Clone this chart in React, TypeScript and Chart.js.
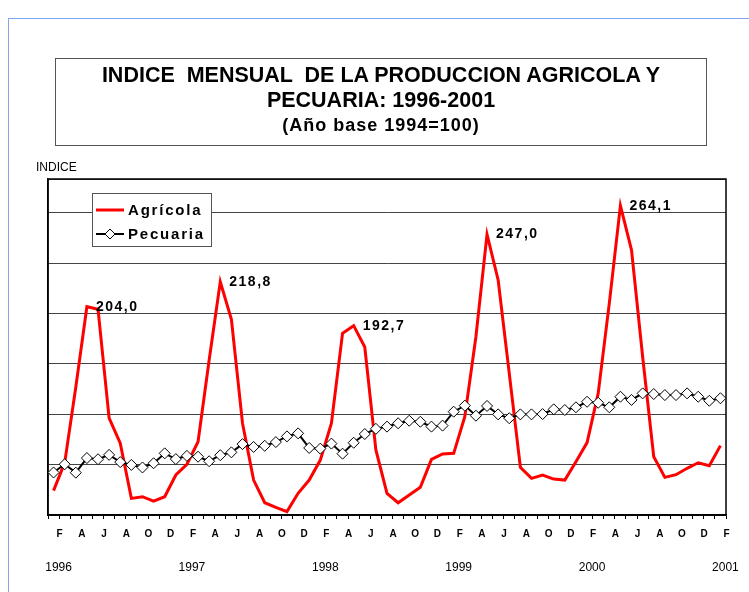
import React, { useEffect, useRef } from 'react';
import { Chart, registerables } from 'chart.js';

Chart.register(...registerables);

// ---- Data ----
const monthLetters = ['E', 'F', 'M', 'A', 'M', 'J', 'J', 'A', 'S', 'O', 'N', 'D'];
const firstYear = 1996;
const firstMonth = 1; // February (0 = enero)

const agricola = [
  94.5, 111.0, 156.0, 204.0, 202.5, 137.6, 122.7, 89.9, 90.9, 88.3, 90.9, 103.8,
  110.2, 123.6, 172.3, 218.8, 196.5, 134.6, 100.8, 87.3, 84.6, 82.0, 92.9, 100.8,
  112.7, 134.6, 188.1, 192.7, 180.0, 118.7, 92.9, 87.3, 91.9, 96.5, 113.1, 116.3,
  116.7, 138.5, 186.1, 247.0, 219.9, 164.3, 108.4, 101.8, 103.8, 101.4, 100.8, 111.7,
  123.1, 152.4, 206.0, 264.1, 237.7, 174.2, 114.7, 102.4, 104.0, 107.8, 111.1, 109.3,
  121.3,
];

const pecuaria = [
  105.3, 110.2, 105.2, 113.9, 113.2, 115.8, 111.5, 109.8, 108.3, 110.8, 116.7, 113.3,
  115.2, 114.7, 112.0, 115.6, 117.3, 122.2, 120.5, 121.2, 123.4, 126.8, 128.6, 119.9,
  119.5, 122.5, 116.5, 123.0, 128.2, 131.3, 132.6, 134.6, 136.1, 135.5, 132.6, 133.2,
  141.5, 145.1, 139.1, 144.9, 139.9, 137.6, 139.9, 139.9, 140.1, 142.9, 142.5, 144.1,
  147.4, 146.8, 144.1, 150.4, 148.5, 152.4, 152.0, 151.4, 151.4, 152.4, 150.4, 148.0,
  149.5,
];

const peakIndices = [3, 15, 27, 39, 51];

const yMin = 80;
const yMax = 280;
const gridValues = [80, 110, 140, 170, 200, 230, 260, 280];

const seriesNames = ['Agrícola', 'Pecuaria'];

// categories built from the arrays above
const categories = agricola.map((_, i) => {
  const k = firstMonth + i;
  return { letter: monthLetters[k % 12], year: firstYear + Math.floor(k / 12) };
});

const FONT = "'Liberation Sans', Arial, sans-serif";

const plotBorderPlugin = {
  id: 'plotBorder',
  beforeDatasetsDraw(chart: any) {
    const { ctx, chartArea } = chart;
    ctx.save();
    ctx.strokeStyle = '#000';
    ctx.lineWidth = 1.5;
    ctx.strokeRect(chartArea.left, chartArea.top, chartArea.right - chartArea.left, chartArea.bottom - chartArea.top);
    ctx.restore();
  },
};

const peakLabelPlugin = {
  id: 'peakLabels',
  afterDatasetsDraw(chart: any) {
    const { ctx } = chart;
    const meta = chart.getDatasetMeta(0);
    ctx.save();
    ctx.font = `bold 14px ${FONT}`;
    (ctx as any).letterSpacing = '1.5px';
    ctx.fillStyle = '#000';
    ctx.textAlign = 'left';
    ctx.textBaseline = 'middle';
    peakIndices.forEach((idx) => {
      const pt = meta.data[idx];
      const text = agricola[idx].toFixed(1).replace('.', ',');
      ctx.fillText(text, pt.x + 9, pt.y);
    });
    ctx.restore();
  },
};

const boxLegendPlugin = {
  id: 'boxLegend',
  afterDatasetsDraw(chart: any) {
    const { ctx, chartArea } = chart;
    const x = chartArea.left + 44;
    const y = chartArea.top + 14;
    const w = 119;
    const h = 53;
    ctx.save();
    ctx.fillStyle = '#fff';
    ctx.fillRect(x, y, w, h);
    ctx.strokeStyle = '#555';
    ctx.lineWidth = 1;
    ctx.strokeRect(x + 0.5, y + 0.5, w, h);
    const ds = chart.data.datasets;
    const rows = [y + 17, y + 41];
    rows.forEach((ry, i) => {
      const d = ds[i];
      ctx.strokeStyle = d.borderColor;
      ctx.lineWidth = d.borderWidth;
      ctx.beginPath();
      ctx.moveTo(x + 4, ry);
      ctx.lineTo(x + 32, ry);
      ctx.stroke();
      if (i === 1) {
        const r = 5;
        const cx = x + 18;
        ctx.fillStyle = '#fff';
        ctx.strokeStyle = '#000';
        ctx.lineWidth = 1;
        ctx.beginPath();
        ctx.moveTo(cx, ry - r);
        ctx.lineTo(cx + r, ry);
        ctx.lineTo(cx, ry + r);
        ctx.lineTo(cx - r, ry);
        ctx.closePath();
        ctx.fill();
        ctx.stroke();
      }
      ctx.fillStyle = '#000';
      ctx.font = `bold 15px ${FONT}`;
      (ctx as any).letterSpacing = '1.8px';
      ctx.textAlign = 'left';
      ctx.textBaseline = 'middle';
      ctx.fillText(d.label, x + 36, ry + 1);
    });
    ctx.restore();
  },
};

export default function App() {
  const canvasRef = useRef<HTMLCanvasElement | null>(null);

  useEffect(() => {
    if (!canvasRef.current) return;
    const noSidePadding = (s: any) => {
      s.paddingLeft = 0;
      s.paddingRight = 0;
    };
    const chart = new Chart(canvasRef.current, {
      type: 'line',
      data: {
        labels: categories.map((c) => `${c.letter} ${c.year}`),
        datasets: [
          {
            label: seriesNames[0],
            data: agricola,
            borderColor: '#ff0000',
            backgroundColor: '#ff0000',
            borderWidth: 3,
            pointRadius: 0,
            tension: 0,
            order: 2,
          },
          {
            label: seriesNames[1],
            data: pecuaria,
            borderColor: '#000000',
            backgroundColor: '#ffffff',
            borderWidth: 2,
            pointStyle: 'rectRot',
            pointRadius: 5.5,
            pointBorderWidth: 1,
            pointBorderColor: '#000',
            pointBackgroundColor: '#fff',
            tension: 0,
            order: 1,
          },
        ],
      },
      options: {
        responsive: false,
        animation: false,
        events: [],
        layout: { padding: { left: 48, right: 23, top: 179, bottom: 12 } },
        plugins: {
          legend: { display: false },
          title: { display: false },
          tooltip: { enabled: false },
        },
        scales: {
          y: {
            min: yMin,
            max: yMax,
            afterBuildTicks: (s: any) => {
              s.ticks = gridValues.map((v) => ({ value: v }));
            },
            ticks: { display: false },
            grid: { color: '#444', lineWidth: 1, drawTicks: false },
            border: { display: true, color: '#000', width: 1.5 },
            afterFit: (s: any) => {
              s.width = 0;
            },
          },
          x: {
            type: 'category',
            position: 'bottom',
            offset: true,
            weight: 0,
            grid: { drawOnChartArea: false, drawTicks: true, tickLength: 4, color: '#000', offset: true },
            border: { display: true, color: '#000', width: 1.5 },
            ticks: {
              autoSkip: false,
              maxRotation: 0,
              minRotation: 0,
              padding: 9,
              labelOffset: 6,
              color: '#000',
              font: { family: FONT, size: 10, weight: 'bold' },
              callback: (_v: any, i: number) => (i % 2 === 0 ? categories[i].letter : ''),
            },
            afterFit: (s: any) => {
              s.height = 25;
              noSidePadding(s);
            },
          },
          x2: {
            type: 'category',
            position: 'bottom',
            offset: true,
            weight: 1,
            grid: { display: false, drawTicks: false },
            border: { display: false },
            ticks: {
              autoSkip: false,
              maxRotation: 0,
              minRotation: 0,
              padding: 20,
              labelOffset: 5,
              color: '#000',
              font: { family: FONT, size: 12 },
              callback: (_v: any, i: number) => (i % 12 === 0 ? String(categories[i].year) : ''),
            },
            afterFit: (s: any) => {
              s.height = 40;
              noSidePadding(s);
            },
          },
        },
      } as any,
      plugins: [plotBorderPlugin, peakLabelPlugin, boxLegendPlugin],
    });
    return () => chart.destroy();
  }, []);

  const titleLine: React.CSSProperties = { lineHeight: '25px', whiteSpace: 'pre' };

  return (
    <div style={{ position: 'absolute', left: 0, top: 0, width: 749, height: 592, overflow: 'hidden', background: '#fff' }}>
      <div
        style={{
          position: 'absolute',
          left: 8,
          top: 18,
          width: 800,
          height: 700,
          borderTop: '1px solid #7ea6f2',
          borderLeft: '1px solid #7ea6f2',
        }}
      />
      <canvas ref={canvasRef} width={749} height={592} style={{ position: 'absolute', left: 0, top: 0, width: 749, height: 592 }} />
      <div
        style={{
          position: 'absolute',
          left: 55,
          top: 58,
          width: 650,
          height: 82,
          border: '1px solid #555',
          textAlign: 'center',
          fontFamily: FONT,
          fontWeight: 'bold',
          color: '#000',
          paddingTop: 4,
          boxSizing: 'content-box',
        }}
      >
        <div style={{ ...titleLine, fontSize: 21.5 }}>INDICE  MENSUAL  DE LA PRODUCCION AGRICOLA Y</div>
        <div style={{ ...titleLine, fontSize: 21.5 }}>PECUARIA: 1996-2001</div>
        <div style={{ ...titleLine, fontSize: 18, letterSpacing: '1px' }}>(Año base 1994=100)</div>
      </div>
      <div style={{ position: 'absolute', left: 36, top: 160, fontFamily: FONT, fontSize: 12, lineHeight: '14px', color: '#000' }}>
        INDICE
      </div>
    </div>
  );
}
